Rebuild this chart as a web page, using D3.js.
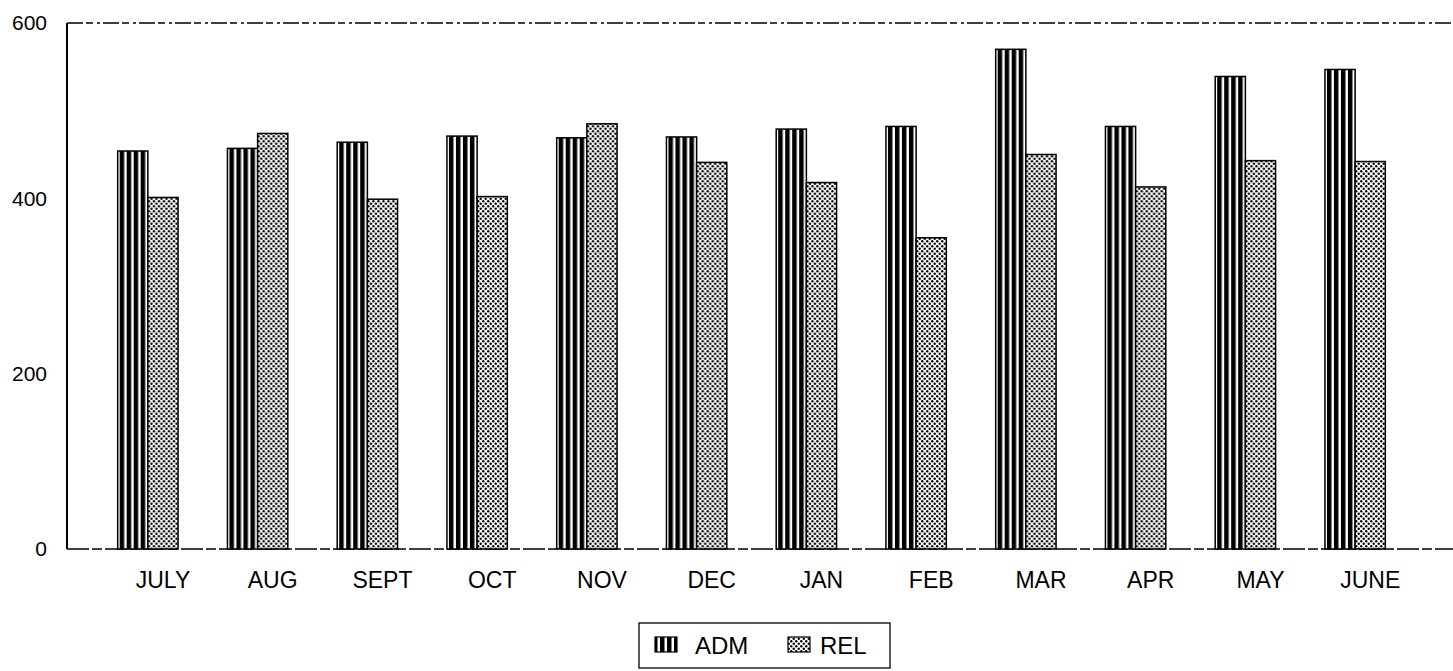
<!DOCTYPE html>
<html>
<head>
<meta charset="utf-8">
<script src="https://d3js.org/d3.v7.min.js"></script>
<style>
  body { margin: 0; background: #fff; }
  text { font-family: "Liberation Sans", Arial, sans-serif; fill: #000; }
</style>
</head>
<body>
<div id="chart"></div>
<script>
// data
var months = ["JULY", "AUG", "SEPT", "OCT", "NOV", "DEC", "JAN", "FEB", "MAR", "APR", "MAY", "JUNE"];
var admValues = [454, 457, 464, 471, 469, 470, 479, 482, 570, 482, 539, 547];
var relValues = [401, 474, 399, 402, 485, 441, 418, 355, 450, 413, 443, 442];
var seriesNames = ["ADM", "REL"];
var yTicks = [0, 200, 400, 600];

var svgWidth = 1453;
var svgHeight = 671;

var plot = { left: 67, top: 23, bottom: 549, right: 1453 };

var svg = d3.select("#chart")
  .append("svg")
  .attr("width", svgWidth)
  .attr("height", svgHeight);

// patterns for the two series
var defs = svg.append("defs");

var stripes = defs.append("pattern")
  .attr("id", "adm")
  .attr("patternUnits", "userSpaceOnUse")
  .attr("width", 7)
  .attr("height", 10);
stripes.append("rect").attr("width", 7).attr("height", 10).attr("fill", "#fff");
stripes.append("rect").attr("x", 2).attr("width", 4.5).attr("height", 10).attr("fill", "#000");

var dots = defs.append("pattern")
  .attr("id", "rel")
  .attr("patternUnits", "userSpaceOnUse")
  .attr("width", 5)
  .attr("height", 5);
dots.append("rect").attr("width", 5).attr("height", 5).attr("fill", "#fff");
dots.append("circle").attr("cx", 1.25).attr("cy", 1.25).attr("r", 1.2).attr("fill", "#000");
dots.append("circle").attr("cx", 3.75).attr("cy", 3.75).attr("r", 1.2).attr("fill", "#000");

var fills = { ADM: "url(#adm)", REL: "url(#rel)" };

// scales
var xScale = d3.scaleBand()
  .domain(months)
  .range([93, 1410])
  .paddingInner(0.45)
  .paddingOuter(0.225);

var xSub = d3.scaleBand()
  .domain(seriesNames)
  .range([0, xScale.bandwidth()]);

var yScale = d3.scaleLinear()
  .domain([0, 600])
  .range([plot.bottom, plot.top]);

// frame: solid left axis, dashed top and bottom
svg.append("line")
  .attr("x1", plot.left).attr("x2", plot.right)
  .attr("y1", yScale(600)).attr("y2", yScale(600))
  .attr("stroke", "#000")
  .attr("stroke-width", 1.3)
  .attr("stroke-dasharray", "16,3,7,4,3,3");

svg.append("line")
  .attr("x1", plot.left).attr("x2", plot.right)
  .attr("y1", yScale(0)).attr("y2", yScale(0))
  .attr("stroke", "#000")
  .attr("stroke-width", 1.6)
  .attr("stroke-dasharray", "22,3,10,3");

svg.append("line")
  .attr("x1", plot.left).attr("x2", plot.left)
  .attr("y1", yScale(600)).attr("y2", yScale(0))
  .attr("stroke", "#000")
  .attr("stroke-width", 2);

// y axis labels
var leftAxis = d3.axisLeft(yScale)
  .tickValues(yTicks)
  .tickSize(0)
  .tickPadding(0);

var yAxis = svg.append("g")
  .attr("transform", "translate(47,0)")
  .call(leftAxis);
yAxis.select(".domain").remove();
yAxis.selectAll("text")
  .style("font-size", "21px")
  .style("font-family", "Liberation Sans, Arial, sans-serif");

// bars
var rows = months.map(function(m, i) {
  return { month: m, ADM: admValues[i], REL: relValues[i] };
});

var groups = svg.selectAll(".month")
  .data(rows)
  .enter()
  .append("g")
  .attr("class", "month")
  .attr("transform", d => `translate(${xScale(d.month)},0)`);

groups.selectAll("rect")
  .data(d => seriesNames.map(s => ({ key: s, value: d[s] })))
  .enter()
  .append("rect")
  .attr("x", d => xSub(d.key))
  .attr("y", d => yScale(d.value))
  .attr("width", xSub.bandwidth())
  .attr("height", d => yScale(0) - yScale(d.value))
  .attr("fill", d => fills[d.key])
  .attr("stroke", "#000")
  .attr("stroke-width", 1.5);

// month labels sit under the REL bar
svg.selectAll(".xlabel")
  .data(months)
  .enter()
  .append("text")
  .attr("class", "xlabel")
  .attr("x", d => xScale(d) + xSub("REL") + xSub.bandwidth() / 2)
  .attr("y", 588)
  .attr("text-anchor", "middle")
  .style("font-size", "23px")
  .text(d => d);

// legend
var legend = svg.append("g");

legend.append("rect")
  .attr("x", 639)
  .attr("y", 623)
  .attr("width", 251)
  .attr("height", 45)
  .attr("fill", "none")
  .attr("stroke", "#000")
  .attr("stroke-width", 1.3);

var legendX = { ADM: 655, REL: 788 };
var legendTextX = { ADM: 695, REL: 820 };

seriesNames.forEach(function(s) {
  legend.append("rect")
    .attr("x", legendX[s])
    .attr("y", 637)
    .attr("width", 22)
    .attr("height", 15)
    .attr("fill", fills[s])
    .attr("stroke", "#000")
    .attr("stroke-width", 1.2);
  legend.append("text")
    .attr("x", legendTextX[s])
    .attr("y", 654)
    .style("font-size", "24px")
    .text(s);
});
</script>
</body>
</html>
